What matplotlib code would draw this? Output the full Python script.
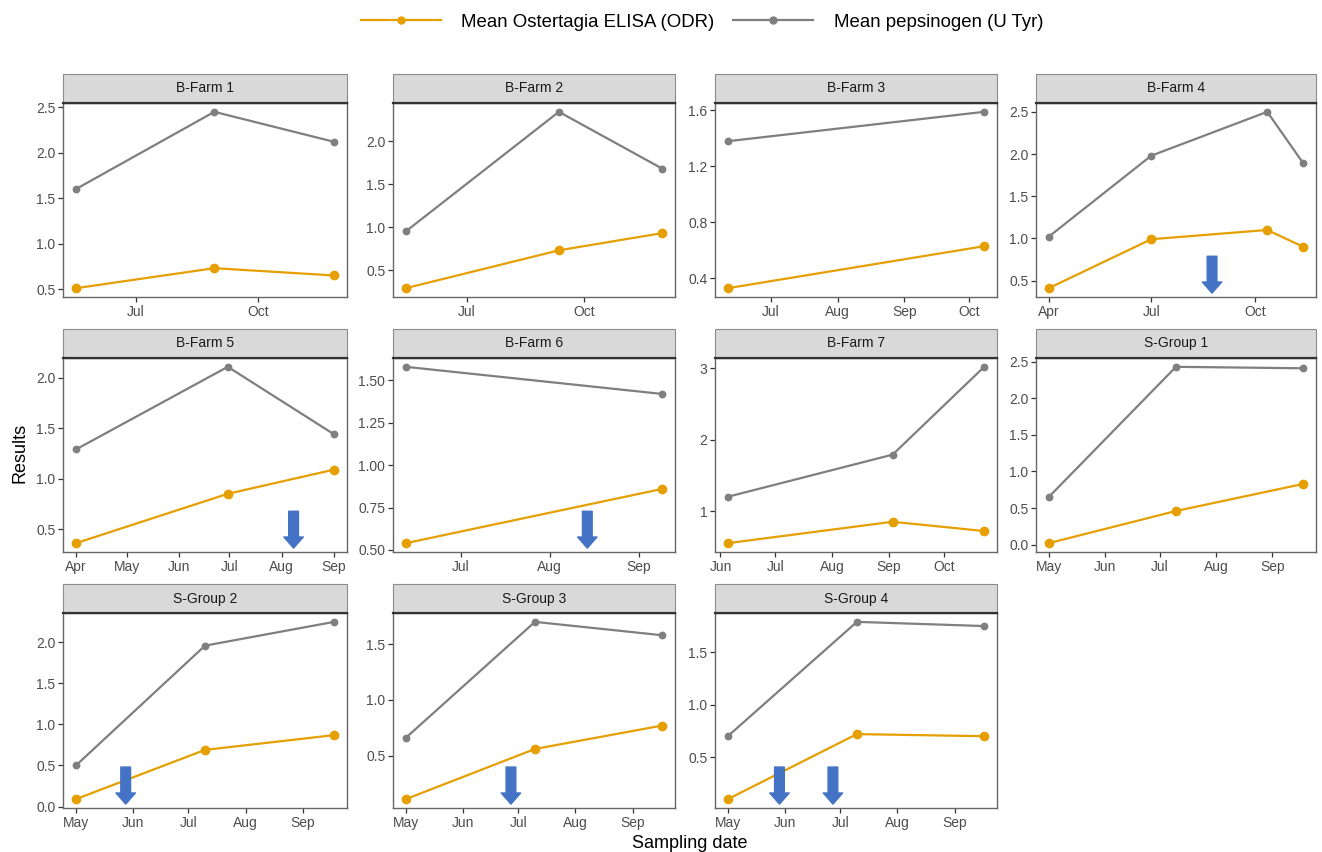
import matplotlib
matplotlib.use('Agg')
import matplotlib.pyplot as plt
import matplotlib.dates as mdates
import matplotlib.transforms as mtransforms
from matplotlib.patches import Rectangle
from matplotlib.lines import Line2D
from datetime import date

plt.rcParams['font.family'] = ['Liberation Sans', 'DejaVu Sans']

# ---------------- data ----------------
panels = ['B-Farm 1', 'B-Farm 2', 'B-Farm 3', 'B-Farm 4',
          'B-Farm 5', 'B-Farm 6', 'B-Farm 7', 'S-Group 1',
          'S-Group 2', 'S-Group 3', 'S-Group 4']

sample_dates = [
    ['2016-05-17', '2016-08-29', '2016-11-27'],
    ['2016-05-14', '2016-09-11', '2016-12-01'],
    ['2016-06-11', '2016-10-08'],
    ['2016-04-01', '2016-07-01', '2016-10-12', '2016-11-13'],
    ['2016-04-01', '2016-06-30', '2016-09-01'],
    ['2016-06-12', '2016-09-09'],
    ['2016-06-05', '2016-09-03', '2016-10-23'],
    ['2016-05-01', '2016-07-10', '2016-09-18'],
    ['2016-05-01', '2016-07-10', '2016-09-18'],
    ['2016-05-01', '2016-07-10', '2016-09-17'],
    ['2016-05-01', '2016-07-10', '2016-09-17'],
]

elisa_odr = [
    [0.51, 0.73, 0.65],
    [0.29, 0.73, 0.93],
    [0.33, 0.63],
    [0.41, 0.99, 1.10, 0.90],
    [0.36, 0.85, 1.09],
    [0.54, 0.86],
    [0.55, 0.85, 0.72],
    [0.02, 0.46, 0.83],
    [0.09, 0.69, 0.87],
    [0.11, 0.56, 0.77],
    [0.10, 0.72, 0.70],
]

pepsinogen_utyr = [
    [1.60, 2.45, 2.12],
    [0.95, 2.34, 1.68],
    [1.38, 1.59],
    [1.02, 1.98, 2.50, 1.89],
    [1.29, 2.11, 1.44],
    [1.58, 1.42],
    [1.20, 1.79, 3.02],
    [0.65, 2.43, 2.41],
    [0.50, 1.96, 2.25],
    [0.66, 1.70, 1.58],
    [0.70, 1.79, 1.75],
]

x_tick_dates = [
    ['2016-07-01', '2016-10-01'],
    ['2016-07-01', '2016-10-01'],
    ['2016-07-01', '2016-08-01', '2016-09-01', '2016-10-01'],
    ['2016-04-01', '2016-07-01', '2016-10-01'],
    ['2016-04-01', '2016-05-01', '2016-06-01', '2016-07-01', '2016-08-01', '2016-09-01'],
    ['2016-07-01', '2016-08-01', '2016-09-01'],
    ['2016-06-01', '2016-07-01', '2016-08-01', '2016-09-01', '2016-10-01'],
    ['2016-05-01', '2016-06-01', '2016-07-01', '2016-08-01', '2016-09-01'],
    ['2016-05-01', '2016-06-01', '2016-07-01', '2016-08-01', '2016-09-01'],
    ['2016-05-01', '2016-06-01', '2016-07-01', '2016-08-01', '2016-09-01'],
    ['2016-05-01', '2016-06-01', '2016-07-01', '2016-08-01', '2016-09-01'],
]

y_tick_labels = [
    ['0.5', '1.0', '1.5', '2.0', '2.5'],
    ['0.5', '1.0', '1.5', '2.0'],
    ['0.4', '0.8', '1.2', '1.6'],
    ['0.5', '1.0', '1.5', '2.0', '2.5'],
    ['0.5', '1.0', '1.5', '2.0'],
    ['0.50', '0.75', '1.00', '1.25', '1.50'],
    ['1', '2', '3'],
    ['0.0', '0.5', '1.0', '1.5', '2.0', '2.5'],
    ['0.0', '0.5', '1.0', '1.5', '2.0'],
    ['0.5', '1.0', '1.5'],
    ['0.5', '1.0', '1.5'],
]

# treatment arrows (panel index, date)
arrow_panels = [3, 4, 5, 8, 9, 10, 10]
arrow_dates = ['2016-08-24', '2016-08-08', '2016-08-14', '2016-05-28',
               '2016-06-27', '2016-05-29', '2016-06-27']

series_labels = ['Mean Ostertagia ELISA (ODR)', 'Mean pepsinogen (U Tyr)']

# ---------------- style ----------------
W, H = 1322, 852
ORANGE = '#E69F00'
GREY = '#7F7F7F'
ARROW = '#4472C4'
TICKCOL = '#4D4D4D'

col_x = [(63, 347), (393, 675), (715, 997), (1036, 1316)]
row_y = [(103, 297), (358, 552), (613, 808)]
strip_h = 29

fig = plt.figure(figsize=(W / 100, H / 100), dpi=100)


def d(s):
    y, m, dd = map(int, s.split('-'))
    return date(y, m, dd)


for i, name in enumerate(panels):
    r, c = divmod(i, 4)
    x0, x1 = col_x[c]
    yt, yb = row_y[r]
    ax = fig.add_axes([x0 / W, 1 - yb / H, (x1 - x0) / W, (yb - yt) / H])
    xs = [d(s) for s in sample_dates[i]]
    ax.plot(xs, pepsinogen_utyr[i], color=GREY, lw=1.6, marker='o', ms=4.6,
            zorder=3)
    ax.plot(xs, elisa_odr[i], color=ORANGE, lw=1.6, marker='o', ms=6,
            zorder=4)
    ax.margins(x=0.05, y=0.05)

    ax.set_xticks([d(s) for s in x_tick_dates[i]])
    ax.xaxis.set_major_formatter(mdates.DateFormatter('%b'))
    yt_vals = [float(v) for v in y_tick_labels[i]]
    ax.set_yticks(yt_vals)
    ax.set_yticklabels(y_tick_labels[i])
    ax.tick_params(axis='both', colors='#333333', labelcolor=TICKCOL,
                   labelsize=10, length=3.5, width=0.9, pad=2)
    for sp in ax.spines.values():
        sp.set_color('#666666')
        sp.set_linewidth(1.0)
    ax.set_facecolor('white')

    # strip
    sh = strip_h / (yb - yt)
    ax.add_patch(Rectangle((0, 1), 1, sh, transform=ax.transAxes,
                           facecolor='#D9D9D9', edgecolor='#8C8C8C',
                           lw=0.8, clip_on=False, zorder=5))
    ax.plot([0, 1], [1, 1], transform=ax.transAxes, color='#333333',
            lw=1.6, clip_on=False, zorder=6)
    ax.text(0.5, 1 + sh / 2, name, transform=ax.transAxes, ha='center',
            va='center', fontsize=10, color='#1A1A1A', zorder=7)

    # arrows
    trans = mtransforms.blended_transform_factory(ax.transData, ax.transAxes)
    for p, ad in zip(arrow_panels, arrow_dates):
        if p == i:
            xd = mdates.date2num(d(ad))
            ax.annotate('', xy=(xd, 0.02), xytext=(xd, 0.21),
                        xycoords=trans, textcoords=trans,
                        arrowprops=dict(width=7, headwidth=14, headlength=8,
                                        facecolor=ARROW, edgecolor=ARROW,
                                        shrink=0),
                        zorder=8)

# axis titles
fig.text(20 / W, 1 - 453 / H, 'Results', rotation=90, ha='center',
         va='center', fontsize=13, color='black')
fig.text(690 / W, 1 - 843 / H, 'Sampling date', ha='center', va='center',
         fontsize=13, color='black')

# legend
handles = [Line2D([], [], color=ORANGE, lw=1.6, marker='o', ms=5),
           Line2D([], [], color=GREY, lw=1.6, marker='o', ms=5)]
fig.legend(handles, series_labels, loc='center', ncol=2,
           bbox_to_anchor=(702 / W, 1 - 22 / H), frameon=False,
           fontsize=13.4, handlelength=4.3, handletextpad=1.1,
           columnspacing=1.0)

fig.savefig('out.png', dpi=100)
